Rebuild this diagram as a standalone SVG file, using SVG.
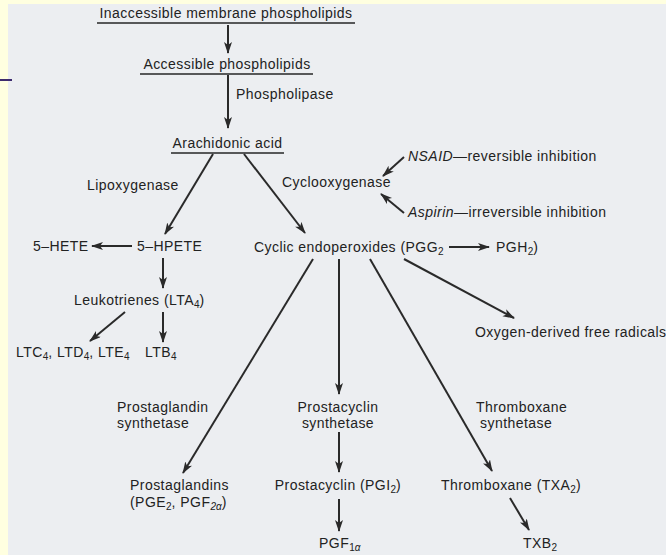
<svg xmlns="http://www.w3.org/2000/svg" width="666" height="555" viewBox="0 0 666 555">
<style>
text{font-family:"Liberation Sans",Arial,sans-serif;font-size:14px;letter-spacing:0.45px;fill:#222}
.m{text-anchor:middle}
.it{font-style:italic}
.sub{font-size:10px;letter-spacing:0}
.ul{stroke:#262626;stroke-width:1.5}
#connectors line{stroke:#2a2a2a;stroke-width:2;marker-end:url(#ah)}
</style>
<defs>
<marker id="ah" markerUnits="userSpaceOnUse" markerWidth="14" markerHeight="10" refX="11" refY="4" orient="auto">
<path d="M0,0 L12,4 L0,8 L3,4 z" fill="#2a2a2a"/>
</marker>
</defs>
<rect x="0" y="0" width="666" height="555" fill="#ffffe0"/>
<rect x="8" y="4" width="658" height="551" fill="#eceef1"/>
<line x1="0" y1="80" x2="12" y2="80" stroke="#3d2b6e" stroke-width="2"/>

<g id="connectors">
<line x1="228" y1="25" x2="228" y2="53"/>
<line x1="228" y1="75" x2="228" y2="128"/>
<line x1="213" y1="154" x2="165" y2="234"/>
<line x1="244" y1="154" x2="305" y2="233"/>
<line x1="404" y1="157" x2="383" y2="176"/>
<line x1="404" y1="213" x2="381" y2="194"/>
<line x1="132" y1="246" x2="92" y2="246"/>
<line x1="163" y1="258" x2="163" y2="288"/>
<line x1="125" y1="312" x2="90" y2="341"/>
<line x1="163" y1="312" x2="163" y2="342"/>
<line x1="449" y1="247" x2="489" y2="247"/>
<line x1="313" y1="259" x2="183" y2="473"/>
<line x1="339" y1="259" x2="339" y2="394"/>
<line x1="370" y1="259" x2="492" y2="471"/>
<line x1="404" y1="259" x2="514" y2="318"/>
<line x1="339" y1="432" x2="339" y2="472"/>
<line x1="339" y1="499" x2="339" y2="531"/>
<line x1="510" y1="498" x2="529" y2="530"/>
</g>

<g id="inaccessible">
<text class="m" x="226" y="18">Inaccessible membrane phospholipids</text>
<line class="ul" x1="97" y1="23" x2="355" y2="23"/>
</g>
<g id="accessible">
<text class="m" x="227" y="69">Accessible phospholipids</text>
<line class="ul" x1="140" y1="74" x2="313" y2="74"/>
</g>
<g id="phospholipase"><text x="236" y="99">Phospholipase</text></g>
<g id="arachidonic">
<text class="m" x="227.5" y="148">Arachidonic acid</text>
<line class="ul" x1="171" y1="153" x2="284" y2="153"/>
</g>
<g id="lipoxygenase"><text x="87" y="190">Lipoxygenase</text></g>
<g id="cyclooxygenase"><text x="282" y="187">Cyclooxygenase</text></g>
<g id="nsaid"><text x="408" y="161"><tspan class="it">NSAID</tspan>—reversible inhibition</text></g>
<g id="aspirin"><text x="408" y="217"><tspan class="it">Aspirin</tspan>—irreversible inhibition</text></g>
<g id="hete"><text x="33" y="251">5–HETE</text></g>
<g id="hpete"><text x="137" y="251">5–HPETE</text></g>
<g id="endoperoxides">
<text x="254" y="252">Cyclic endoperoxides (PGG<tspan class="sub" dy="3">2</tspan></text>
<text x="496" y="252">PGH<tspan class="sub" dy="3">2</tspan><tspan dy="-3">)</tspan></text>
</g>
<g id="leukotrienes"><text x="74" y="305">Leukotrienes (LTA<tspan class="sub" dy="3">4</tspan><tspan dy="-3">)</tspan></text></g>
<g id="ltc"><text x="16" y="357">LTC<tspan class="sub" dy="3">4</tspan><tspan dy="-3">, LTD</tspan><tspan class="sub" dy="3">4</tspan><tspan dy="-3">, LTE</tspan><tspan class="sub" dy="3">4</tspan></text></g>
<g id="ltb"><text x="145" y="357">LTB<tspan class="sub" dy="3">4</tspan></text></g>
<g id="radicals"><text x="475" y="337">Oxygen-derived free radicals</text></g>
<g id="pg-synthetase">
<text x="117" y="412">Prostaglandin</text>
<text x="117" y="428">synthetase</text>
</g>
<g id="pc-synthetase">
<text class="m" x="338" y="412">Prostacyclin</text>
<text class="m" x="338" y="428">synthetase</text>
</g>
<g id="tx-synthetase">
<text x="476" y="412">Thromboxane</text>
<text x="480" y="428">synthetase</text>
</g>
<g id="prostaglandins">
<text x="130" y="490">Prostaglandins</text>
<text x="130" y="507">(PGE<tspan class="sub" dy="3">2</tspan><tspan dy="-3">, PGF</tspan><tspan class="sub it" dy="3">2α</tspan><tspan dy="-3">)</tspan></text>
</g>
<g id="prostacyclin"><text class="m" x="338" y="490">Prostacyclin (PGI<tspan class="sub" dy="3">2</tspan><tspan dy="-3">)</tspan></text></g>
<g id="thromboxane"><text class="m" x="511" y="490">Thromboxane (TXA<tspan class="sub" dy="3">2</tspan><tspan dy="-3">)</tspan></text></g>
<g id="pgf"><text x="319" y="548">PGF<tspan class="sub" dy="3">1</tspan><tspan class="sub it">α</tspan></text></g>
<g id="txb"><text x="523" y="548">TXB<tspan class="sub" dy="3">2</tspan></text></g>
</svg>
